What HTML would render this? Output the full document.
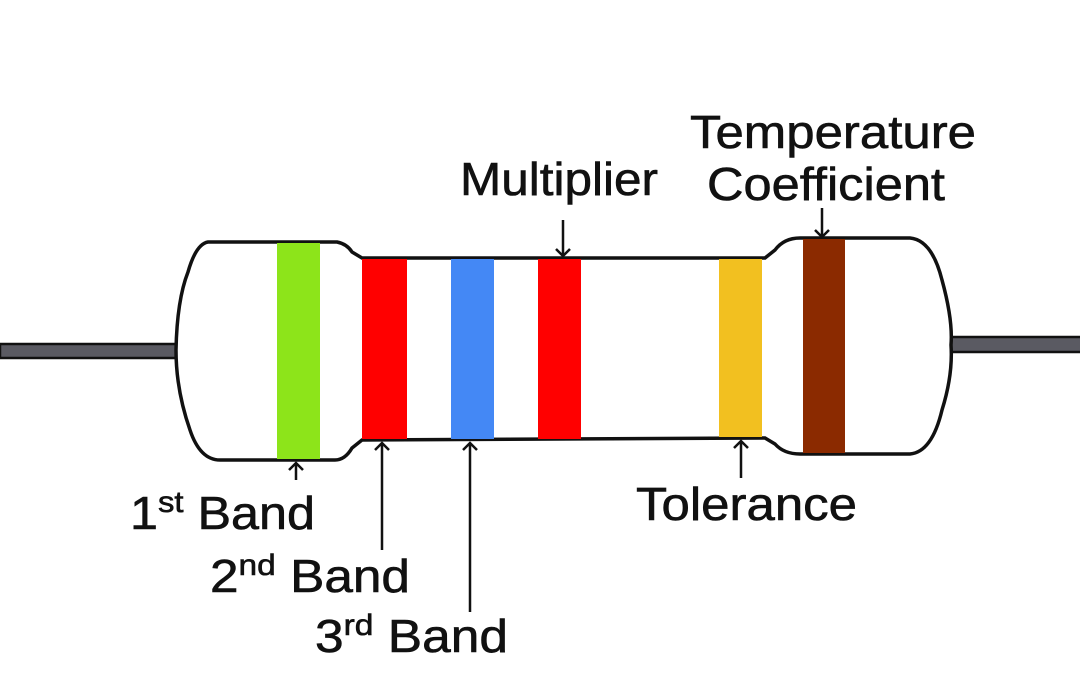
<!DOCTYPE html>
<html><head><style>html,body{margin:0;padding:0;background:#fff;width:1080px;height:698px;overflow:hidden}</style></head>
<body>
<svg width="1080" height="698" viewBox="0 0 1080 698" xmlns="http://www.w3.org/2000/svg" font-family="Liberation Sans, Arial, sans-serif" fill="#111">
<!-- leads -->
<rect x="0" y="344" width="180" height="14" fill="#5a5a62" stroke="#111" stroke-width="2.5"/>
<rect x="948" y="337" width="134" height="15" fill="#5a5a62" stroke="#111" stroke-width="2.5"/>
<!-- body -->
<path d="M208,242 L337,242 Q347,244 352,252 L362,258 L765,258 L775,250 Q784,238 800,238 L910,238 Q932,240 942,280 Q953,320 951,345 Q953,375 942,410 Q932,452 910,454 L800,454 Q784,454 775,444 L765,438 L362,440 L352,448 Q345,460 335,460 L220,460 Q200,460 190,430 Q176,390 176,350 Q177,300 188,272 Q196,244 208,242 Z" fill="#fff" stroke="#111" stroke-width="3.5"/>
<!-- bands -->
<rect x="277" y="243" width="43" height="216" fill="#8de41a"/>
<rect x="362" y="259" width="45" height="180" fill="#ff0000"/>
<rect x="451" y="259" width="43" height="180" fill="#4488f5"/>
<rect x="538" y="259" width="43" height="180" fill="#ff0000"/>
<rect x="719" y="259" width="43" height="178" fill="#f2c020"/>
<rect x="803" y="239" width="42" height="214" fill="#8b2a00"/>
<!-- arrows -->
<g stroke="#111" stroke-width="2.5" fill="none">
<path d="M296,480 V463 M289,470 L296,463 L303,470"/>
<path d="M382,550 V443 M375,450 L382,443 L389,450"/>
<path d="M470,612 V443 M463,450 L470,443 L477,450"/>
<path d="M741,478 V441 M734,448 L741,441 L748,448"/>
<path d="M563,220 V256 M556,249 L563,256 L570,249"/>
<path d="M822,208 V237 M815,230 L822,237 L829,230"/>
</g>
<!-- labels -->
<g font-size="46" stroke="#111" stroke-width="0.6">
<text x="460" y="195" textLength="198" lengthAdjust="spacingAndGlyphs">Multiplier</text>
<text x="690" y="148" textLength="286" lengthAdjust="spacingAndGlyphs">Temperature</text>
<text x="707" y="200" textLength="238" lengthAdjust="spacingAndGlyphs">Coefficient</text>
<text x="636" y="520" textLength="221" lengthAdjust="spacingAndGlyphs">Tolerance</text>
<text x="130" y="529" textLength="185" lengthAdjust="spacingAndGlyphs">1<tspan font-size="30" dy="-17">st</tspan><tspan dy="17"> Band</tspan></text>
<text x="210" y="592" textLength="200" lengthAdjust="spacingAndGlyphs">2<tspan font-size="30" dy="-17">nd</tspan><tspan dy="17"> Band</tspan></text>
<text x="315" y="652" textLength="193" lengthAdjust="spacingAndGlyphs">3<tspan font-size="30" dy="-17">rd</tspan><tspan dy="17"> Band</tspan></text>
</g>
</svg>
</body></html>
